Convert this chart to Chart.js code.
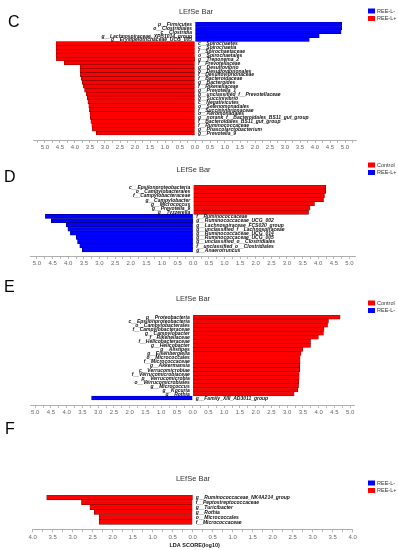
<!DOCTYPE html>
<html>
<head>
<meta charset="utf-8">
<script src="https://cdn.jsdelivr.net/npm/chart.js@4.4.1/dist/chart.umd.min.js"></script>
<style>
  html, body { margin: 0; padding: 0; background: #fff; }
  #page { position: relative; width: 398px; height: 550px; overflow: hidden; }
  .panel { position: absolute; left: 0; width: 398px; }
</style>
</head>
<body>
<div id="page">
  <div class="panel" style="top:0;height:152px"><canvas id="chartC"></canvas></div>
  <div class="panel" style="top:152px;height:116px"><canvas id="chartD"></canvas></div>
  <div class="panel" style="top:270px;height:147px"><canvas id="chartE"></canvas></div>
  <div class="panel" style="top:417px;height:133px"><canvas id="chartF"></canvas></div>
</div>
<script>
const FONT = 'Arial, "Liberation Sans", sans-serif';
const RED = '#ff0000';
const BLUE = '#0000ff';

// ---- panel C: REE-L- vs REE-L+
const C_MINUS_TAXA = ['p__Firmicutes', 'o__Clostridiales', 'c__Clostridia',
  'g__Lachnospiraceae_XPB1014_group', 'g__Erysipelotrichaceae_UCG_003'];
const C_MINUS_LDA = [4.89, 4.89, 4.87, 4.14, 3.81];
const C_PLUS_TAXA = ['c__Spirochaetes', 'c__Spirochaetia', 'f__Spirochaetaceae', 'o__Spirochaetales',
  'g__Treponema_2', 'f__Prevotellaceae', 'g__Desulfovibrio', 'o__Desulfovibrionales',
  'f__Desulfovibrionaceae', 'f__Bacteroidaceae', 'g__Bacteroides', 'f__Rikenellaceae',
  'g__Prevotella_1', 'g__unclassified_f__Prevotellaceae', 'g__Succinivibrio', 'c__Negativicutes',
  'o__Selenomonadales', 'f__Succinivibrionaceae', 'o__Aeromonadales',
  'g__norank_f__Bacteroidales_BS11_gut_group', 'f__Bacteroidales_BS11_gut_group',
  'f__Ruminococcaceae', 'g__Phascolarctobacterium', 'g__Prevotella_9'];
const C_PLUS_LDA = [4.63, 4.63, 4.63, 4.63, 4.62, 4.36, 3.83, 3.83, 3.82, 3.79, 3.76, 3.72,
  3.68, 3.63, 3.59, 3.57, 3.54, 3.52, 3.50, 3.49, 3.47, 3.44, 3.42, 3.29];

// ---- panel D: Control vs REE-L+
const D_CONTROL_TAXA = ['c__Epsilonproteobacteria', 'o__Campylobacterales', 'f__Campylobacteraceae',
  'g__Campylobacter', 'g__Micrococcus', 'g__Prevotella_9', 'g__Tyzzerella'];
const D_CONTROL_LDA = [4.24, 4.24, 4.20, 4.17, 3.88, 3.74, 3.69];
const D_PLUS_TAXA = ['f__Ruminococcaceae', 'g__Ruminococcaceae_UCG_002', 'g__Lachnospiraceae_FCS020_group',
  'g__unclassified_f__Lachnospiraceae', 'g__Ruminococcaceae_UCG_014', 'g__Ruminococcaceae_UCG_005',
  'g__unclassified_o__Clostridiales', 'f__unclassified_o__Clostridiales', 'g__Anaerotruncus'];
const D_PLUS_LDA = [4.73, 4.54, 4.06, 4.01, 3.93, 3.74, 3.70, 3.63, 3.55];

// ---- panel E: Control vs REE-L-
const E_CONTROL_TAXA = ['p__Proteobacteria', 'c__Epsilonproteobacteria', 'o__Campylobacterales',
  'f__Campylobacteraceae', 'g__Campylobacter', 'f__Rikenellaceae', 'f__Helicobacteraceae',
  'g__Helicobacter', 'g__Alistipes', 'g__Eisenbergiella', 'o__Micrococcales', 'f__Micrococcaceae',
  'g__Akkermansia', 'c__Verrucomicrobiae', 'f__Verrucomicrobiaceae', 'p__Verrucomicrobia',
  'o__Verrucomicrobiales', 'g__Micrococcus', 'g__Kocuria', 'g__Rothia'];
const E_CONTROL_LDA = [4.68, 4.31, 4.28, 4.17, 4.15, 3.99, 3.74, 3.74, 3.49, 3.44,
  3.41, 3.41, 3.40, 3.40, 3.38, 3.38, 3.37, 3.36, 3.34, 3.22];
const E_MINUS_TAXA = ['g__Family_XIII_AD3011_group'];
const E_MINUS_LDA = [3.21];

// ---- panel F: REE-L- vs REE-L+
const F_MINUS_TAXA = [];
const F_MINUS_LDA = [];
const F_PLUS_TAXA = ['g__Ruminococcaceae_NK4A214_group', 'f__Peptostreptococcaceae', 'g__Turicibacter',
  'g__Rothia', 'o__Micrococcales', 'f__Micrococcaceae'];
const F_PLUS_LDA = [3.65, 2.78, 2.57, 2.46, 2.34, 2.34];

// names printed next to the zero line
const taxaLabels = {
  id: 'taxaLabels',
  afterDatasetsDraw(chart, args, opts) {
    const ctx = chart.ctx;
    const x0 = chart.scales.x.getPixelForValue(0);
    const data = chart.data.datasets[0].data;
    ctx.save();
    ctx.font = 'italic bold 5px ' + FONT;
    ctx.fillStyle = '#111';
    ctx.textBaseline = 'middle';
    chart.getDatasetMeta(0).data.forEach((bar, i) => {
      const pos = data[i].x > 0;
      ctx.textAlign = pos ? 'right' : 'left';
      ctx.fillText(opts.names[i], pos ? x0 - 3 : x0 + 3, bar.y + 0.5);
    });
    ctx.restore();
  }
};

// panel letter, title, legend and axis title
const decor = {
  id: 'decor',
  afterDraw(chart, args, o) {
    const ctx = chart.ctx;
    ctx.save();
    ctx.textBaseline = 'middle';
    ctx.fillStyle = '#000';
    ctx.font = '16px ' + FONT;
    ctx.textAlign = 'left';
    ctx.fillText(o.letter, o.letterX, o.letterY);

    ctx.fillStyle = '#333';
    ctx.font = '7.5px ' + FONT;
    ctx.textAlign = 'center';
    ctx.fillText('LEfSe Bar', o.titleX, o.titleY);

    ctx.font = '5.5px ' + FONT;
    ctx.textAlign = 'left';
    o.legend.forEach((item, i) => {
      const y = o.legendY + i * 7.5;
      ctx.fillStyle = item.color;
      ctx.fillRect(368, y - 2.5, 7, 5);
      ctx.fillStyle = '#333';
      ctx.fillText(item.name, 377, y);
    });

    if (o.axisTitle) {
      ctx.fillStyle = '#111';
      ctx.font = 'bold 5.5px ' + FONT;
      ctx.textAlign = 'center';
      ctx.fillText(o.axisTitle, chart.scales.x.getPixelForValue(0) + 2, o.axisTitleY);
    }
    ctx.restore();
  }
};

function lefsePanel(id, p) {
  const names = p.topTaxa.concat(p.bottomTaxa);
  const values = p.topLda.concat(p.bottomLda.map(v => -v));
  const colors = p.topLda.map(() => p.topColor).concat(p.bottomLda.map(() => p.bottomColor));
  const borders = colors.map(c => c === RED ? '#7a0000' : '#000070');
  const n = values.length;

  // tick marks every 0.25, labels every 0.5 up to the outer value
  const xTicks = [];
  const steps = Math.floor(p.range * 4);
  for (let k = -steps; k <= steps; k++) xTicks.push(k / 4);

  return new Chart(document.getElementById(id), {
    type: 'bar',
    data: {
      datasets: [{
        data: values.map((v, i) => ({ x: v, y: i })),
        backgroundColor: colors,
        borderColor: borders,
        borderWidth: 0.6,
        barPercentage: 1,
        categoryPercentage: 1,
      }],
    },
    options: {
      indexAxis: 'y',
      responsive: true,
      maintainAspectRatio: false,
      animation: false,
      layout: { padding: p.padding },
      plugins: {
        legend: { display: false },
        tooltip: { enabled: false },
        taxaLabels: { names: names },
        decor: p.decor,
      },
      scales: {
        x: {
          type: 'linear',
          bounds: 'data',
          offset: false,
          min: -p.range,
          max: p.range,
          afterBuildTicks: scale => { scale.ticks = xTicks.map(v => ({ value: v })); },
          afterFit: scale => { scale.height = 12; },
          ticks: {
            autoSkip: false,
            maxRotation: 0,
            padding: 1,
            color: '#666',
            font: { size: 6, family: FONT },
            callback: v => (Math.round(v * 4) % 2 === 0 && Math.abs(v) <= p.labelMax) ? Math.abs(v).toFixed(1) : '',
          },
          grid: { drawOnChartArea: false, tickLength: 3, color: '#999', lineWidth: 0.7 },
          border: { color: '#999', width: 0.8 },
        },
        y: {
          type: 'linear',
          bounds: 'data',
          offset: false,
          grace: 0,
          reverse: true,
          display: false,
          min: -0.5,
          max: n - 0.5 + p.gap,
          ticks: { stepSize: 1, includeBounds: false },
        },
      },
    },
    plugins: [taxaLabels, decor],
  });
}

lefsePanel('chartC', {
  topTaxa: C_MINUS_TAXA, topLda: C_MINUS_LDA, topColor: BLUE,
  bottomTaxa: C_PLUS_TAXA, bottomLda: C_PLUS_LDA, bottomColor: RED,
  range: 5.39, labelMax: 5, gap: 1.28,
  padding: { top: 22, left: 33.3, right: 41.3, bottom: 0 },
  decor: { letter: 'C', letterX: 8, letterY: 23, titleX: 196, titleY: 12, legendY: 11,
    legend: [{ name: 'REE-L-', color: BLUE }, { name: 'REE-L+', color: RED }] },
});

lefsePanel('chartD', {
  topTaxa: D_CONTROL_TAXA, topLda: D_CONTROL_LDA, topColor: RED,
  bottomTaxa: D_PLUS_TAXA, bottomLda: D_PLUS_LDA, bottomColor: BLUE,
  range: 5.2, labelMax: 5, gap: 0.95,
  padding: { top: 33, left: 30.7, right: 42.3, bottom: 0 },
  decor: { letter: 'D', letterX: 4, letterY: 26, titleX: 193.5, titleY: 18, legendY: 13,
    legend: [{ name: 'Control', color: RED }, { name: 'REE-L+', color: BLUE }] },
});

lefsePanel('chartE', {
  topTaxa: E_CONTROL_TAXA, topLda: E_CONTROL_LDA, topColor: RED,
  bottomTaxa: E_MINUS_TAXA, bottomLda: E_MINUS_LDA, bottomColor: BLUE,
  range: 5.15, labelMax: 5, gap: 1.23,
  padding: { top: 45, left: 30.5, right: 43.1, bottom: 0 },
  decor: { letter: 'E', letterX: 4, letterY: 18, titleX: 193, titleY: 29, legendY: 33,
    legend: [{ name: 'Control', color: RED }, { name: 'REE-L-', color: BLUE }] },
});

lefsePanel('chartF', {
  topTaxa: F_MINUS_TAXA, topLda: F_MINUS_LDA, topColor: BLUE,
  bottomTaxa: F_PLUS_TAXA, bottomLda: F_PLUS_LDA, bottomColor: RED,
  range: 4, labelMax: 4, gap: 1.02,
  padding: { top: 78, left: 32.7, right: 45.3, bottom: 8.7 },
  decor: { letter: 'F', letterX: 5, letterY: 13, titleX: 193, titleY: 62, legendY: 66,
    legend: [{ name: 'REE-L-', color: BLUE }, { name: 'REE-L+', color: RED }],
    axisTitle: 'LDA SCORE(log10)', axisTitleY: 128 },
});
</script>
</body>
</html>
